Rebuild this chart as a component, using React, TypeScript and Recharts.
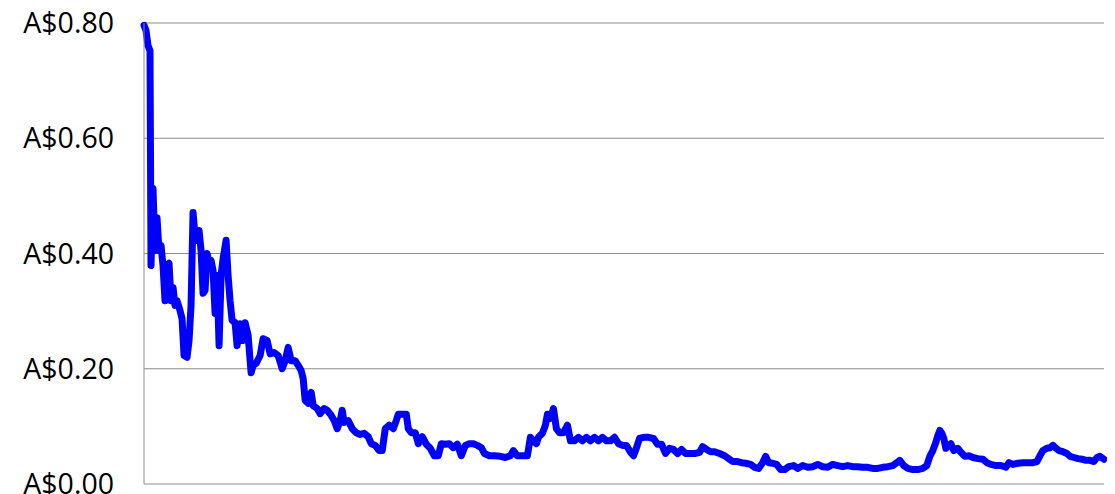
import React from "react";
import { LineChart, Line, XAxis, YAxis, CartesianGrid } from "recharts";

const days: number[] = [
  0, 2, 4, 6, 7, 9, 11, 13, 15, 17, 19, 21, 23, 25, 27, 29, 31, 33, 36, 38,
  40, 43, 45, 47, 49, 51, 53, 55, 57, 59, 61, 63, 65, 67, 69, 71, 73, 75, 77, 79,
  82, 84, 86, 88, 91, 93, 96, 99, 101, 104, 107, 109, 112, 116, 119, 123, 126, 130, 134, 138,
  141, 144, 147, 151, 154, 157, 159, 161, 164, 167, 169, 173, 176, 180, 183, 187, 190, 193, 196, 198,
  200, 204, 208, 212, 216, 220, 224, 227, 231, 235, 238, 241, 245, 249, 252, 254, 258, 262, 264, 267,
  271, 274, 278, 282, 286, 290, 294, 297, 301, 305, 309, 313, 317, 321, 325, 329, 333, 337, 340, 345,
  350, 356, 361, 366, 369, 373, 378, 383, 386, 389, 392, 394, 398, 401, 403, 406, 409, 412, 415, 419,
  423, 426, 430, 434, 438, 442, 446, 450, 454, 458, 462, 466, 470, 474, 478, 482, 486, 489, 492, 495,
  499, 504, 509, 513, 517, 521, 525, 529, 533, 537, 541, 546, 551, 555, 558, 562, 566, 570, 575, 580,
  584, 588, 593, 597, 601, 606, 610, 614, 618, 621, 624, 628, 632, 636, 640, 644, 649, 653, 658, 663,
  668, 673, 678, 683, 688, 693, 698, 703, 708, 713, 718, 723, 728, 733, 738, 743, 748, 752, 755, 759,
  763, 768, 773, 778, 782, 785, 788, 791, 793, 795, 797, 799, 801, 803, 806, 809, 813, 816, 820, 824,
  828, 833, 838, 842, 846, 851, 856, 861, 864, 868, 873, 878, 883, 888, 892, 895, 898, 902, 905, 908,
  911, 914, 918, 922, 925, 929, 933, 937, 941, 945, 949, 952, 955, 959,
];

const price: number[] = [
  0.796, 0.787, 0.761, 0.752, 0.379, 0.513, 0.405, 0.462, 0.405, 0.414, 0.379, 0.318, 0.379, 0.383, 0.318, 0.341, 0.31, 0.318, 0.301, 0.287,
  0.223, 0.22, 0.249, 0.31, 0.471, 0.431, 0.423, 0.44, 0.405, 0.331, 0.336, 0.4, 0.384, 0.388, 0.37, 0.296, 0.362, 0.24, 0.362, 0.391,
  0.423, 0.362, 0.318, 0.284, 0.28, 0.24, 0.278, 0.249, 0.28, 0.258, 0.193, 0.206, 0.209, 0.223, 0.252, 0.249, 0.226, 0.228, 0.223, 0.2,
  0.214, 0.237, 0.214, 0.214, 0.206, 0.197, 0.183, 0.145, 0.14, 0.159, 0.136, 0.131, 0.122, 0.131, 0.128, 0.119, 0.11, 0.096, 0.11, 0.128,
  0.107, 0.11, 0.096, 0.089, 0.086, 0.088, 0.082, 0.07, 0.067, 0.058, 0.058, 0.096, 0.102, 0.096, 0.11, 0.121, 0.121, 0.121, 0.096, 0.089,
  0.089, 0.07, 0.082, 0.069, 0.062, 0.049, 0.049, 0.07, 0.069, 0.07, 0.063, 0.069, 0.049, 0.067, 0.07, 0.07, 0.067, 0.063, 0.053, 0.049,
  0.049, 0.048, 0.046, 0.049, 0.058, 0.049, 0.049, 0.049, 0.081, 0.075, 0.07, 0.081, 0.088, 0.102, 0.121, 0.114, 0.131, 0.096, 0.089, 0.089,
  0.102, 0.075, 0.075, 0.081, 0.075, 0.081, 0.075, 0.081, 0.075, 0.081, 0.075, 0.075, 0.081, 0.07, 0.067, 0.067, 0.055, 0.049, 0.063, 0.079,
  0.081, 0.081, 0.079, 0.069, 0.069, 0.053, 0.062, 0.06, 0.053, 0.06, 0.053, 0.053, 0.053, 0.055, 0.065, 0.06, 0.056, 0.056, 0.053, 0.049,
  0.044, 0.039, 0.039, 0.037, 0.036, 0.034, 0.029, 0.027, 0.037, 0.048, 0.037, 0.036, 0.034, 0.025, 0.025, 0.03, 0.032, 0.027, 0.032, 0.029,
  0.03, 0.034, 0.03, 0.029, 0.034, 0.032, 0.03, 0.032, 0.03, 0.03, 0.029, 0.029, 0.027, 0.027, 0.029, 0.03, 0.032, 0.037, 0.041, 0.032,
  0.027, 0.025, 0.025, 0.027, 0.032, 0.048, 0.058, 0.072, 0.084, 0.093, 0.088, 0.079, 0.062, 0.065, 0.07, 0.058, 0.062, 0.055, 0.048, 0.049,
  0.046, 0.044, 0.043, 0.037, 0.034, 0.032, 0.032, 0.029, 0.037, 0.034, 0.036, 0.037, 0.037, 0.037, 0.039, 0.049, 0.058, 0.062, 0.063, 0.067,
  0.062, 0.058, 0.056, 0.053, 0.048, 0.046, 0.044, 0.043, 0.041, 0.041, 0.039, 0.046, 0.048, 0.043,
];

const yTicks: number[] = [0, 0.2, 0.4, 0.6, 0.8];

const data = days.map((d, i) => ({ day: d, price: price[i] }));

const fmt = (v: number) => `A$${v.toFixed(2)}`;

export default function App() {
  return (
    <LineChart
      width={1107}
      height={486}
      data={data}
      margin={{ top: 15, right: 11, bottom: 10, left: 0 }}
      style={{ overflow: "visible" }}
    >
      <CartesianGrid vertical={false} stroke="#8c8c8c" strokeWidth={1} />
      <XAxis dataKey="day" type="number" domain={[0, 959]} hide />
      <YAxis
        type="number"
        domain={[0, 0.8]}
        ticks={yTicks}
        interval={0}
        tickFormatter={fmt}
        width={136}
        axisLine={{ stroke: "#8c8c8c" }}
        tickLine={false}
        tickSize={0}
        tickMargin={30}
        tick={{ fill: "#000", fontSize: 28.5, fontFamily: "Open Sans" }}
      />
      <Line
        type="linear"
        dataKey="price"
        stroke="#0000ff"
        strokeWidth={7}
        strokeLinejoin="round"
        strokeLinecap="round"
        dot={false}
        isAnimationActive={false}
      />
    </LineChart>
  );
}
